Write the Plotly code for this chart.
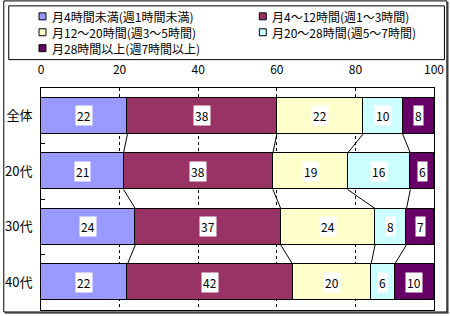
import plotly.graph_objects as go

# ---- data ----
categories = ["全体", "20代", "30代", "40代"]
series_names = [
    "月4時間未満(週1時間未満)",
    "月4～12時間(週1～3時間)",
    "月12～20時間(週3～5時間)",
    "月20～28時間(週5～7時間)",
    "月28時間以上(週7時間以上)",
]
s1 = [22, 21, 24, 22]
s2 = [38, 38, 37, 42]
s3 = [22, 19, 24, 20]
s4 = [10, 16, 8, 6]
s5 = [8, 6, 7, 10]
series_values = [s1, s2, s3, s4, s5]
x_ticks = [0, 20, 40, 60, 80, 100]

colors = ["#9999FF", "#993366", "#FFFFCC", "#CCFFFF", "#660066"]
FONT = "Noto Sans CJK JP"
W, H = 450, 316
L, R, T, B = 38, 16, 88, 5
BW = 0.655
pw, ph = W - L - R, H - T - B

def px_x(p):
    return (p - L) / pw

def px_y(p):
    return (H - B - p) / ph

ypos = list(range(len(categories)))
fig = go.Figure()
for name, vals, c in zip(series_names, series_values, colors):
    fig.add_trace(go.Bar(
        y=ypos, x=vals, orientation="h", name=name, width=BW,
        marker=dict(color=c, line=dict(color="black", width=1)),
        showlegend=False, hoverinfo="skip"))

# cumulative boundaries
cums = []
for i in range(len(categories)):
    acc, row = 0, []
    for vals in series_values:
        acc += vals[i]
        row.append(acc)
    cums.append(row)

# connector lines
lx, ly = [], []
for i in range(len(categories) - 1):
    for k in range(len(series_values) - 1):
        lx += [cums[i][k], cums[i + 1][k], None]
        ly += [i + BW / 2, i + 1 - BW / 2, None]
fig.add_trace(go.Scatter(x=lx, y=ly, mode="lines", line=dict(color="black", width=1),
                         showlegend=False, hoverinfo="skip"))

annotations = []
for i in range(len(categories)):
    start = 0
    for vals in series_values:
        v = vals[i]
        annotations.append(dict(
            x=start + v / 2, y=i, xref="x", yref="y", text=str(v), showarrow=False,
            bgcolor="white", borderpad=1, font=dict(family=FONT, size=12, color="black")))
        start += v

shapes = []
# outer border (thin top/left, thicker right/bottom)
shapes.append(dict(type="rect", xref="paper", yref="paper",
                   x0=px_x(0.5), x1=px_x(447), y0=px_y(313), y1=px_y(0.5),
                   line=dict(color="black", width=1)))
shapes.append(dict(type="line", xref="paper", yref="paper",
                   x0=px_x(448), x1=px_x(448), y0=px_y(1.5), y1=px_y(314),
                   line=dict(color="black", width=1)))
shapes.append(dict(type="line", xref="paper", yref="paper",
                   x0=px_x(1.5), x1=px_x(448.5), y0=px_y(314), y1=px_y(314),
                   line=dict(color="black", width=1)))
# legend box
shapes.append(dict(type="rect", xref="paper", yref="paper",
                   x0=px_x(5.5), x1=px_x(444.5), y0=px_y(59.5), y1=px_y(5.5),
                   line=dict(color="black", width=1)))
leg_pos = [(36, 16), (258, 16), (36, 32), (258, 32), (36, 48)]
for (lxp, lyp), name, c in zip(leg_pos, series_names, colors):
    shapes.append(dict(type="rect", xref="paper", yref="paper",
                       x0=px_x(lxp), x1=px_x(lxp + 7), y0=px_y(lyp + 3.5), y1=px_y(lyp - 3.5),
                       fillcolor=c, line=dict(color="black", width=1)))
    annotations.append(dict(x=px_x(lxp + 11), y=px_y(lyp), xref="paper", yref="paper",
                            text=name, showarrow=False, xanchor="left", yanchor="middle",
                            font=dict(family=FONT, size=12, color="black")))

fig.update_layout(
    width=W, height=H, margin=dict(l=L, r=R, t=T, b=B),
    barmode="stack", bargap=0, paper_bgcolor="white", plot_bgcolor="white",
    font=dict(family=FONT, size=12, color="black"),
    annotations=annotations, shapes=shapes,
    xaxis=dict(side="top", range=[0, 100], tickvals=x_ticks, showgrid=True,
               gridcolor="black", gridwidth=1, griddash="3px,3px",
               showline=True, mirror=True, linecolor="black", linewidth=1,
               zeroline=False, ticks="", ticklabelstandoff=8, fixedrange=True,
               tickfont=dict(family=FONT, size=12)),
    yaxis=dict(range=[len(categories) - 0.5, -0.5], tickvals=ypos, ticktext=categories,
               showgrid=False, zeroline=False, showline=True, mirror=True,
               linecolor="black", linewidth=1, ticks="", ticklabelstandoff=5,
               minor=dict(tickvals=[0.5, 1.5, 2.5], ticks="inside", ticklen=4,
                          tickcolor="black", showgrid=False),
               tickfont=dict(family=FONT, size=13), fixedrange=True),
)
fig.write_html("out.html")
